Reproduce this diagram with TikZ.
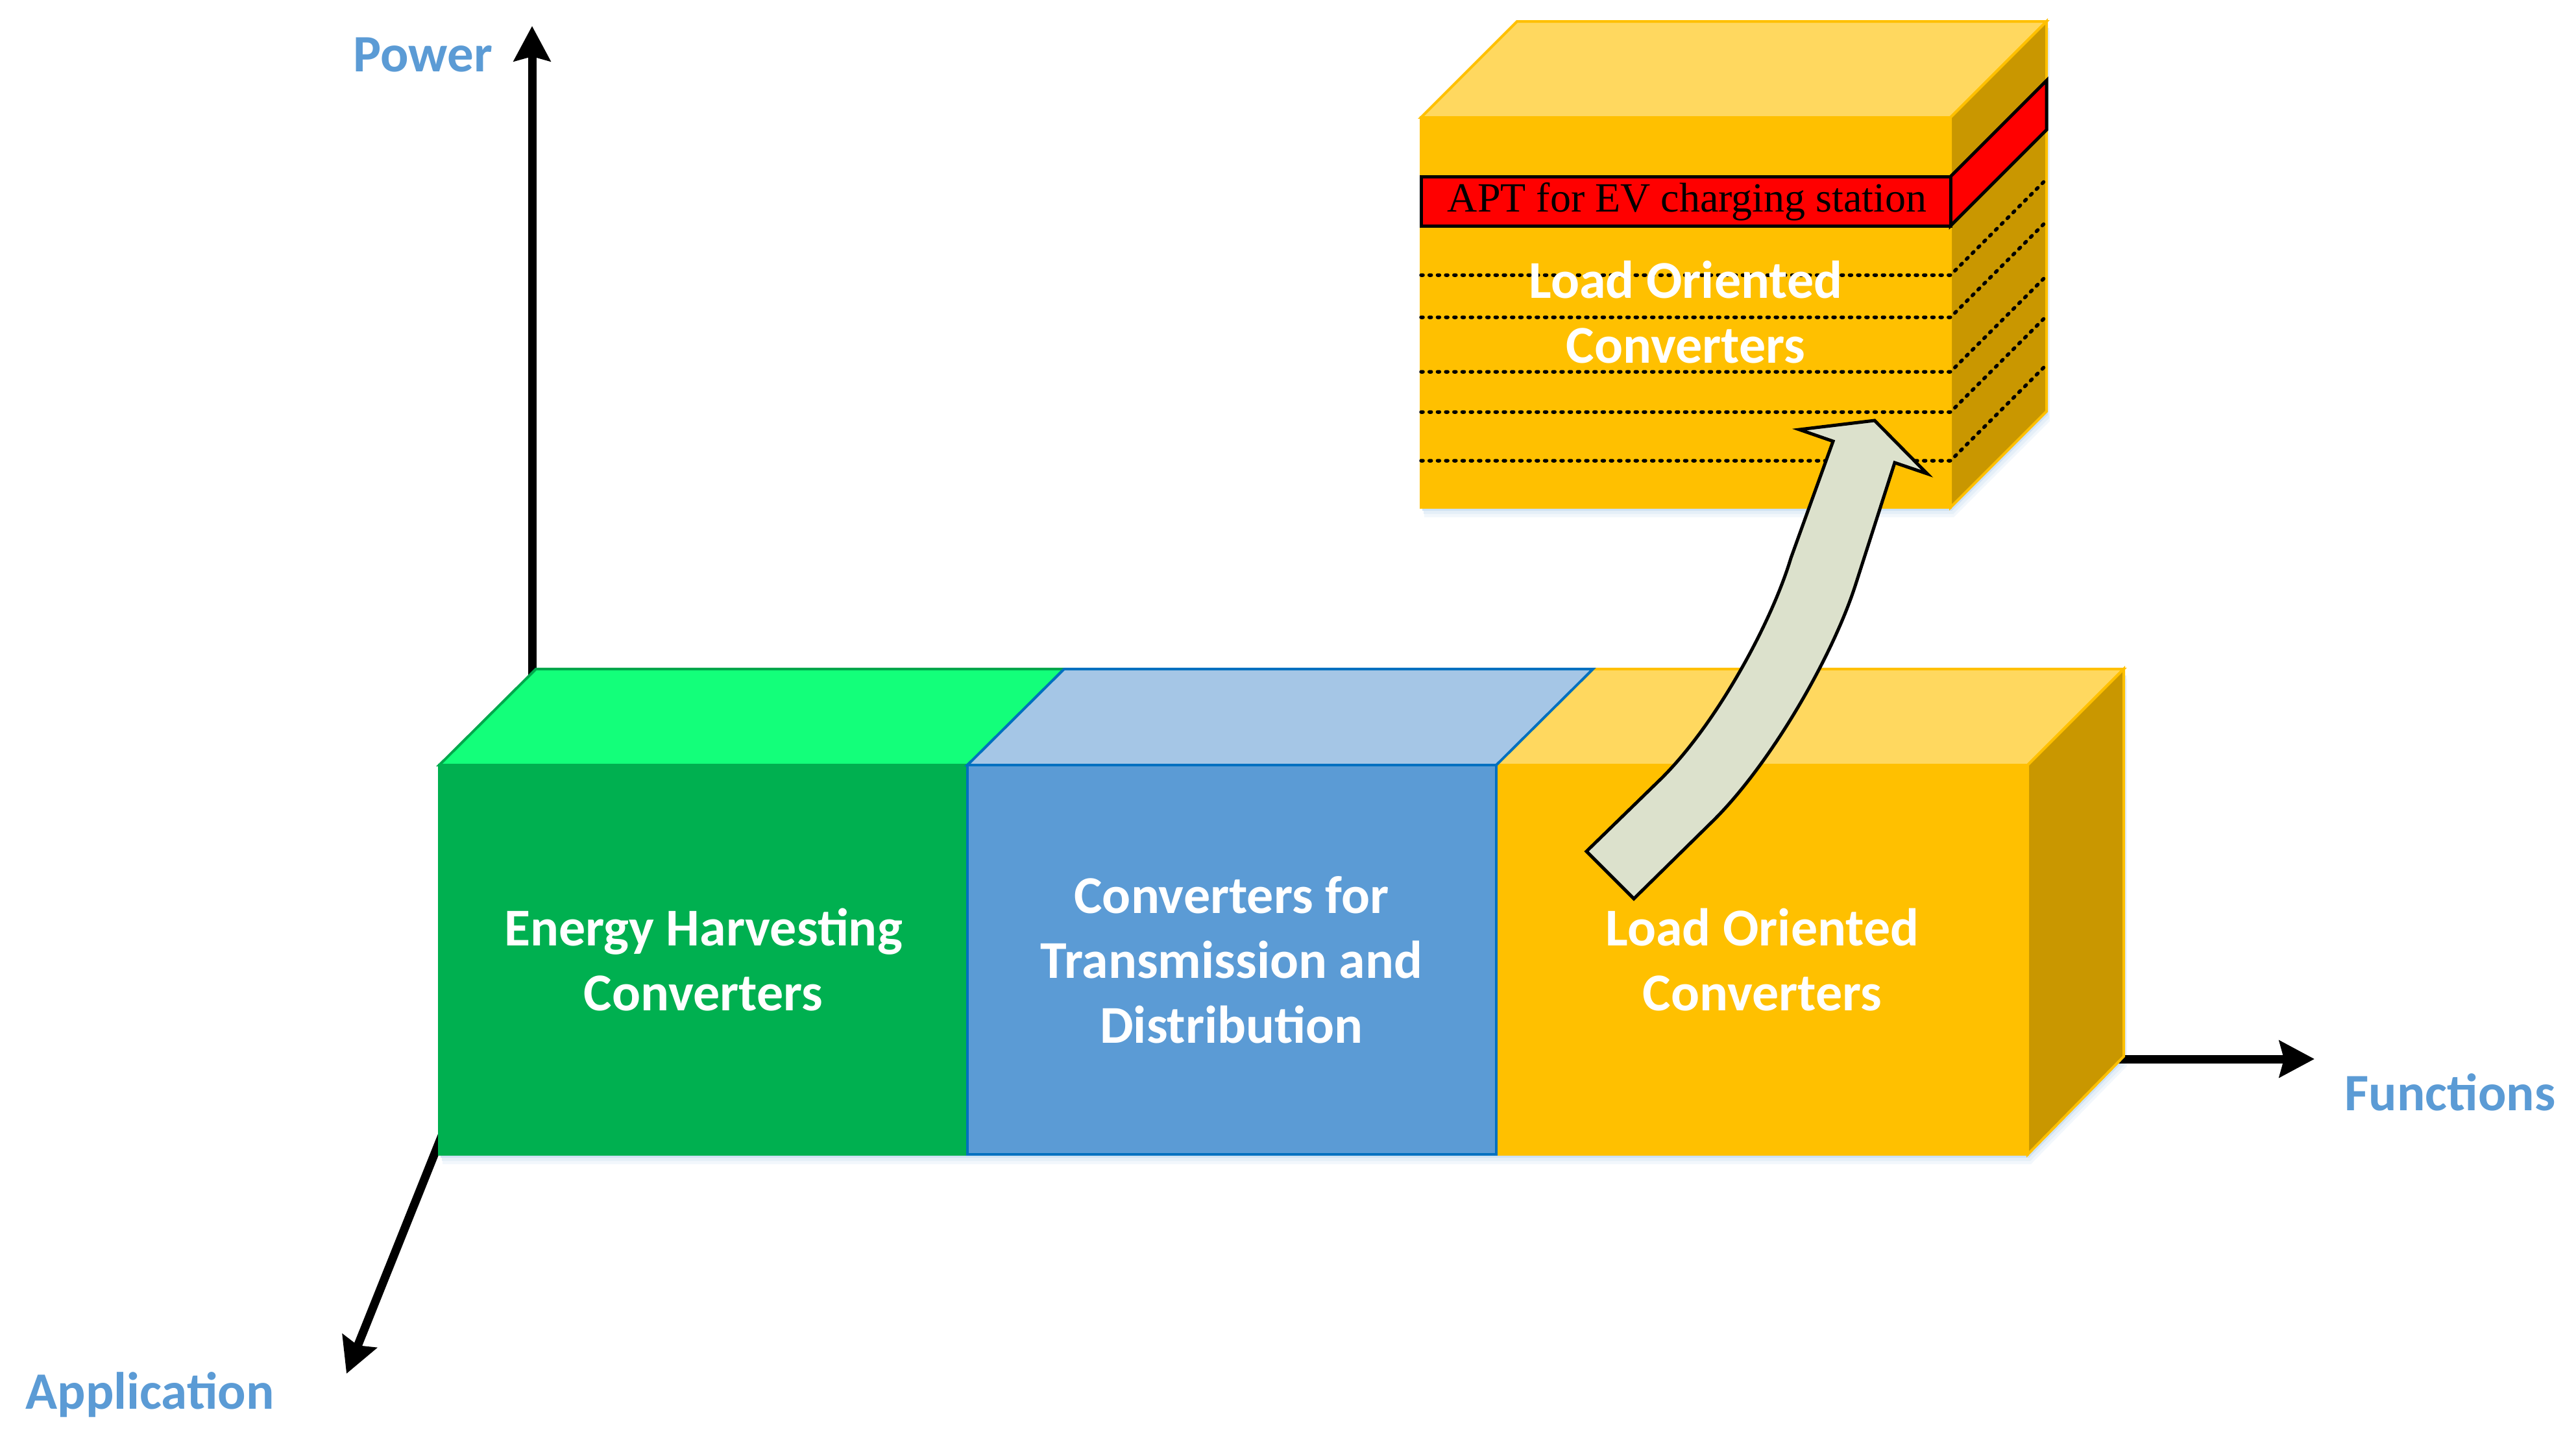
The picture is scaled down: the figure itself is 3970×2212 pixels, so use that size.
\documentclass[tikz,border=0pt]{standalone}
\usepackage{fontspec}
\setmainfont{Carlito}
\newfontfamily\aptserif{Liberation Serif}
\usetikzlibrary{arrows.meta}
\definecolor{gFront}{HTML}{00B050}
\definecolor{gTop}{HTML}{13FF7A}
\definecolor{gLine}{HTML}{00A84C}
\definecolor{bFront}{HTML}{5B9BD5}
\definecolor{bTop}{HTML}{A5C6E6}
\definecolor{bLine}{HTML}{0070C0}
\definecolor{yFront}{HTML}{FFC000}
\definecolor{yTop}{HTML}{FFD85F}
\definecolor{ySide}{HTML}{C99700}
\definecolor{arrowFill}{HTML}{DCE1CC}
\definecolor{labelBlue}{HTML}{5B9BD5}
\definecolor{bandRed}{HTML}{FF0000}
\tikzset{
  axisline/.style={line width=13pt, -{Stealth[length=54pt,width=56pt,inset=7pt]}},
  axlabel/.style={font=\fontsize{81}{98}\selectfont\bfseries, text=labelBlue, inner sep=0pt},
  boxtext/.style={font=\fontsize{82}{100}\selectfont\bfseries, text=white, align=center, inner sep=0pt},
  apttext/.style={font=\aptserif\fontsize{64}{70}\selectfont, text=black, inner sep=0pt},
  dotline/.style={line width=5.5pt, line cap=round, dash pattern=on 3pt off 9.7pt},
  edge4/.style={line width=4pt, line join=miter},
}
\begin{document}
\begin{tikzpicture}[x=1pt,y=-1pt]
\useasboundingbox (0,0) rectangle (3970,2212);

% ---- soft shadows
\foreach \dx/\dy/\c in {5/15/8, 4/10/16, 2/5/30}{
  \fill[labelBlue!\c] ([shift={(\dx,\dy)}]677,1179) -- ([shift={(\dx,\dy)}]677,1779) -- ([shift={(\dx,\dy)}]3125,1779) -- ([shift={(\dx,\dy)}]3273,1628) -- ([shift={(\dx,\dy)}]3273,1031) -- ([shift={(\dx,\dy)}]826,1031) -- cycle;
  \fill[labelBlue!\c] ([shift={(\dx,\dy)}]2190,181) -- ([shift={(\dx,\dy)}]2190,782) -- ([shift={(\dx,\dy)}]3006,782) -- ([shift={(\dx,\dy)}]3154,634) -- ([shift={(\dx,\dy)}]3154,33) -- ([shift={(\dx,\dy)}]2338,33) -- cycle;
}

% ---- axes
\coordinate (pstart) at (820,1045);
\coordinate (ptip) at (820,40);
\coordinate (astart) at (693,1720);
\coordinate (atip) at (534,2117);
\coordinate (fstart) at (3240,1632);
\coordinate (ftip) at (3567,1632);
\draw[axisline] (pstart) -- (ptip);
\draw[axisline] (astart) -- (atip);
\draw[axisline] (fstart) -- (ftip);

\node[axlabel, anchor=base] (power) at (652,110) {Power};
\node[axlabel, anchor=base] (functions) at (3776,1711) {Functions};
\node[axlabel, anchor=base] (application) at (231,2171) {Application};

% ---- green box
\filldraw[fill=gTop, draw=gLine, edge4] (677,1179) -- (826,1031) -- (1640,1031) -- (1491,1179) -- cycle;
\filldraw[fill=gFront, draw=gFront, edge4] (677,1179) rectangle (1491,1779);
\node[boxtext] (energy) at (1084,1479) {Energy Harvesting\\Converters};

% ---- yellow box
\filldraw[fill=yTop, draw=yFront, edge4] (2306,1179) -- (2455,1031) -- (3273,1031) -- (3125,1179) -- cycle;
\filldraw[fill=ySide, draw=yFront, edge4] (3125,1179) -- (3273,1031) -- (3273,1628) -- (3125,1779) -- cycle;
\filldraw[fill=yFront, draw=yFront, edge4] (2306,1179) rectangle (3125,1779);
\node[boxtext] (load) at (2716,1479) {Load Oriented\\Converters};

% ---- blue box
\filldraw[fill=bTop, draw=bLine, edge4] (1491,1179) -- (1640,1031) -- (2455,1031) -- (2306,1179) -- cycle;
\filldraw[fill=bFront, draw=bLine, edge4] (1491,1179) rectangle (2306,1779);
\node[boxtext] (trans) at (1898,1479) {Converters for\\Transmission and\\Distribution};

% ---- top cube
\filldraw[fill=yTop, draw=yFront, edge4] (2190,181) -- (2338,33) -- (3154,33) -- (3006,181) -- cycle;
\filldraw[fill=ySide, draw=yFront, edge4] (3006,181) -- (3154,33) -- (3154,634) -- (3006,782) -- cycle;
\filldraw[fill=yFront, draw=yFront, edge4] (2190,181) rectangle (3006,782);
\foreach \yy in {424,489,573,635,710}{
  \draw[dotline] (2190,\yy) -- (3006,\yy) -- (3154,\yy-148);
}
\filldraw[fill=bandRed, draw=black, line width=5pt, line join=miter] (3006,272) -- (3154,124) -- (3154,200) -- (3006,348) -- cycle;
\filldraw[fill=bandRed, draw=black, line width=5pt, line join=miter] (2190,272) rectangle (3006,348);
\node[apttext, anchor=base] (apt) at (2600,326) {APT for EV charging station};
\node[boxtext] (loadtop) at (2598,481) {Load Oriented\\Converters};

% ---- curved block arrow
\draw[fill=arrowFill, draw=black, line width=5pt, line join=miter]
  (2445,1312) -- (2560,1200)
  .. controls (2645,1116) and (2730,960) .. (2760,860)
  -- (2825,680)
  -- (2773,662) -- (2889,648) -- (2970,730) -- (2920,713)
  -- (2860,900)
  .. controls (2825,1010) and (2730,1176) .. (2640,1265)
  -- (2518,1385) -- cycle;
\end{tikzpicture}
\end{document}
